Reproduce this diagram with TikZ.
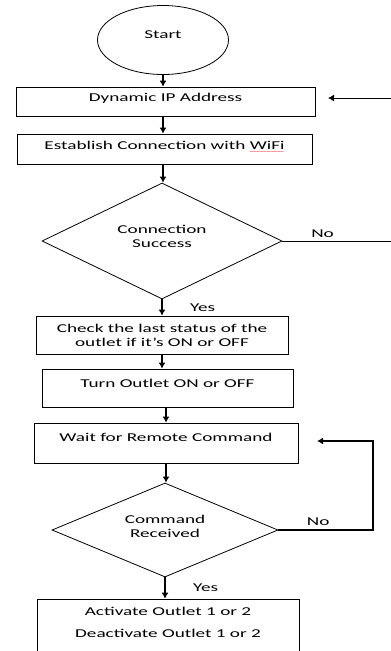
\documentclass[tikz,border=0pt]{standalone}
\usepackage{fontspec}
\setmainfont{Carlito}[FakeStretch=1.6]
\newfontfamily\wavefont{DejaVu Sans}
\usetikzlibrary{shapes.geometric,arrows.meta}
\newcommand\redwave[1]{\setbox0\hbox{#1}\leavevmode\rlap{\lower4.5pt\hbox to\wd0{\color{red}\wavefont\fontsize{5}{5}\selectfont\leaders\hbox{\kern-0.4pt\char`~\kern-0.4pt}\hfill}}\box0}
\begin{document}
\begin{tikzpicture}[>={Latex[length=6pt,width=7pt]},x=1pt,y=-1pt]
	\tikzstyle{rec}=[rectangle,draw,line width=0.8pt,inner sep=0pt,font=\fontsize{12}{14}\selectfont,align=center]
	\tikzstyle{dia}=[diamond,draw,line width=0.8pt,inner sep=0pt,aspect=2,font=\fontsize{12}{14}\selectfont,align=center]
	\tikzstyle{arr}=[->,line width=1.5pt]
	\tikzstyle{lbl}=[font=\fontsize{12}{14}\selectfont]
	\useasboundingbox (0,0) rectangle (391,651);

	\node[ellipse,draw,line width=0.8pt,minimum width=131pt,minimum height=69pt,font=\fontsize{12}{14}\selectfont,text depth=11pt] (S) at (163,40) {Start};
	\node[rec,minimum width=299pt,minimum height=29pt,text depth=8pt] (IP) at (165.5,101.5) {Dynamic IP Address};
	\node[rec,minimum width=295pt,minimum height=30pt,text depth=8pt] (WF) at (164.5,149) {Establish Connection with \redwave{WiFi}};
	\node[dia,minimum width=240pt,minimum height=116pt,text depth=9pt] (CS) at (162,241) {Connection\\Success};
	\node[rec,minimum width=252pt,minimum height=38pt] (CK) at (162,335) {Check the last status of the\\outlet if it’s ON or OFF};
	\node[rec,minimum width=251pt,minimum height=38pt,text depth=9pt] (TO) at (167.5,388) {Turn Outlet ON or OFF};
	\node[rec,minimum width=264pt,minimum height=40pt,text depth=11pt] (WR) at (166,443) {Wait for Remote Command};
	\node[dia,minimum width=226pt,minimum height=94pt,text depth=7pt] (CR) at (165,530) {Command\\Received};
	\node[rec,minimum width=262pt,minimum height=62pt,text depth=16pt] (AO) at (168,630) {Activate Outlet 1 or 2\\[8pt]Deactivate Outlet 1 or 2};

	\coordinate (IN) at (391,98);
	\coordinate (INH) at (328,98);
	\coordinate (NO) at (391,241);
	\coordinate (LP) at (373,441);
	\coordinate (LPH) at (317,441);

	\draw[arr] (S.south) -- (S.south |- IP.north);
	\draw[arr] (IP.south -| S) -- (S |- WF.north);
	\draw[arr] (WF.south -| S) -- (CS.north -| S);
	\draw[arr] (CS.south) -- node[lbl,right=24pt] {Yes} (CS.south |- CK.north);
	\draw[arr] (CK.south) -- (CK.south |- TO.north);
	\draw[arr] (TO.south -| WR) -- (WR.north);
	\draw[arr] (WR.south) -- (WR.south |- CR.north);
	\draw[arr] (CR.south) -- node[lbl,right=24pt] {Yes} (CR.south |- AO.north);

	\draw[->,line width=1pt] (IN) -- (INH);
	\draw[line width=1pt] (CS.east) -- node[lbl,above,pos=0.37] {No} (NO);
	\draw[->,line width=1.5pt] (CR.east) -- node[lbl,above,pos=0.42] {No} (CR.east -| LP) -- (LP) -- (LPH);
\end{tikzpicture}
\end{document}
